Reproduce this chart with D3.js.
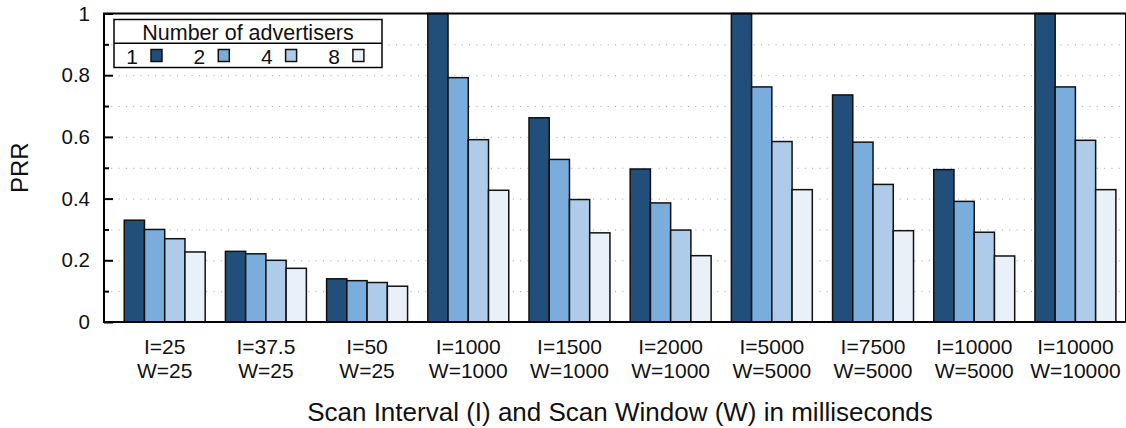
<!DOCTYPE html>
<html>
<head>
<meta charset="utf-8">
<script src="https://cdn.jsdelivr.net/npm/d3@7"></script>
<style>
	body { margin: 0; background: #fff; }
	svg { display: block; font-family: "Liberation Sans", Arial, sans-serif; }
</style>
</head>
<body>
<svg id="chart" width="1126" height="428"></svg>
<script>
// group labels (two lines each)
const intervals = ["I=25", "I=37.5", "I=50", "I=1000", "I=1500", "I=2000", "I=5000", "I=7500", "I=10000", "I=10000"];
const windows = ["W=25", "W=25", "W=25", "W=1000", "W=1000", "W=1000", "W=5000", "W=5000", "W=5000", "W=10000"];

// number of advertisers
const advertisers = ["1", "2", "4", "8"];

// PRR per advertiser count
const prr1 = [0.330, 0.229, 0.140, 1.000, 0.662, 0.496, 1.000, 0.736, 0.494, 1.000];
const prr2 = [0.300, 0.221, 0.134, 0.792, 0.527, 0.386, 0.762, 0.583, 0.391, 0.762];
const prr4 = [0.270, 0.200, 0.128, 0.591, 0.397, 0.298, 0.585, 0.446, 0.291, 0.589];
const prr8 = [0.227, 0.174, 0.116, 0.427, 0.289, 0.215, 0.429, 0.296, 0.214, 0.429];

const yMajor = [0, 0.2, 0.4, 0.6, 0.8, 1];
const yMajorLabels = ["0", "0.2", "0.4", "0.6", "0.8", "1"];
const yMinor = [0.1, 0.3, 0.5, 0.7, 0.9];

const colors = ["#214f7a", "#7aacdc", "#aecce9", "#e9f0f8"];

document.addEventListener("DOMContentLoaded", () => {
	drawChart();
});

function drawChart() {
	const svg = d3.select("#chart");
	const left = 104, right = 1126, top = 13.5, bottom = 322;

	const x = d3.scaleLinear().domain([-0.6, 9.5]).range([left, right]);
	const y = d3.scaleLinear().domain([0, 1]).range([bottom, top]);
	const series = [prr1, prr2, prr4, prr8];
	const barW = x(0.2) - x(0);

	// dotted grid
	svg.append("g")
		.attr("transform", `translate(${left},0)`)
		.call(d3.axisLeft(y).tickValues(yMajor.concat(yMinor).filter(d => d > 0 && d < 1)).tickSize(-(right - left)).tickFormat(""))
		.call(g => g.select(".domain").remove())
		.call(g => g.selectAll("line")
			.attr("stroke", "#a0a0a0")
			.attr("stroke-width", 1)
			.attr("stroke-dasharray", "1,6.3"));

	// bars
	series.forEach((vals, k) => {
		svg.append("g")
			.selectAll("rect")
			.data(vals)
			.join("rect")
			.attr("x", (d, i) => x(i - 0.4 + k * 0.2))
			.attr("y", d => y(d))
			.attr("width", barW)
			.attr("height", d => y(0) - y(d))
			.attr("fill", colors[k])
			.attr("stroke", "#111")
			.attr("stroke-width", 1.5);
	});

	// frame
	svg.append("rect")
		.attr("x", left)
		.attr("y", top)
		.attr("width", right - left)
		.attr("height", bottom - top)
		.attr("fill", "none")
		.attr("stroke", "#000")
		.attr("stroke-width", 2);

	// y ticks (inward) and labels
	svg.append("g")
		.attr("transform", `translate(${left},0)`)
		.call(d3.axisLeft(y).tickValues(yMajor).tickSize(-9).tickPadding(14).tickFormat((d, i) => yMajorLabels[i]))
		.call(g => g.select(".domain").remove())
		.call(g => g.selectAll("line").attr("stroke", "#000").attr("stroke-width", 2))
		.call(g => g.selectAll("text")
			.attr("fill", "#111")
			.style("font-size", "20.5px")
			.style("font-family", "'Liberation Sans', Arial, sans-serif"));

	svg.append("g")
		.attr("transform", `translate(${left},0)`)
		.call(d3.axisLeft(y).tickValues(yMinor).tickSize(-5).tickFormat(""))
		.call(g => g.select(".domain").remove())
		.call(g => g.selectAll("line").attr("stroke", "#000").attr("stroke-width", 2));

	// x labels
	const xl = svg.append("g")
		.selectAll("text")
		.data(intervals)
		.join("text")
		.attr("x", (d, i) => x(i))
		.attr("text-anchor", "middle")
		.attr("fill", "#111")
		.style("font-size", "21px");
	xl.append("tspan").attr("x", (d, i) => x(i)).attr("y", 354).text(d => d);
	xl.append("tspan").attr("x", (d, i) => x(i)).attr("y", 378).text((d, i) => windows[i]);

	// axis titles
	svg.append("text")
		.attr("x", 620)
		.attr("y", 421)
		.attr("text-anchor", "middle")
		.attr("fill", "#111")
		.style("font-size", "26px")
		.text("Scan Interval (I) and Scan Window (W) in milliseconds");

	svg.append("text")
		.attr("transform", `translate(28,${(top + bottom) / 2}) rotate(-90)`)
		.attr("text-anchor", "middle")
		.attr("fill", "#111")
		.style("font-size", "24px")
		.text("PRR");

	// legend
	const lg = svg.append("g");
	lg.append("rect")
		.attr("x", 114).attr("y", 19.5)
		.attr("width", 268).attr("height", 48)
		.attr("fill", "#fff")
		.attr("stroke", "#000")
		.attr("stroke-width", 1.5);
	lg.append("line")
		.attr("x1", 114).attr("x2", 382)
		.attr("y1", 43.3).attr("y2", 43.3)
		.attr("stroke", "#000")
		.attr("stroke-width", 1.5);
	lg.append("text")
		.attr("x", 248).attr("y", 39.5)
		.attr("text-anchor", "middle")
		.attr("fill", "#111")
		.style("font-size", "21.5px")
		.text("Number of advertisers");

	const items = lg.selectAll("g.item")
		.data(advertisers)
		.join("g")
		.attr("class", "item")
		.attr("transform", (d, i) => `translate(${151 + i * 67.3},0)`);
	items.append("text")
		.attr("x", -13).attr("y", 63.5)
		.attr("text-anchor", "end")
		.attr("fill", "#111")
		.style("font-size", "21px")
		.text(d => d);
	items.append("rect")
		.attr("x", 0).attr("y", 49.5)
		.attr("width", 11).attr("height", 12)
		.attr("fill", (d, i) => colors[i])
		.attr("stroke", "#111")
		.attr("stroke-width", 1.5);
}
</script>
</body>
</html>
